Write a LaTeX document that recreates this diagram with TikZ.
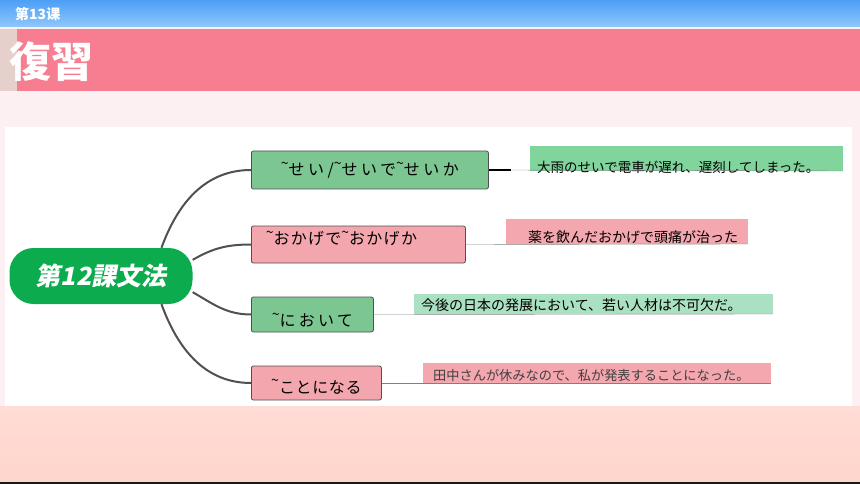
\documentclass[tikz,border=0pt]{standalone}
\usepackage{fontspec}
\setmainfont{Noto Sans CJK JP}
\newfontfamily\scfont{Noto Sans CJK SC}
\newfontfamily\slantfont{Noto Sans CJK JP}[FakeSlant=0.2]
\usetikzlibrary{positioning}
\definecolor{barblue}{RGB}{77,159,247}
\definecolor{barblue2}{RGB}{143,199,251}
\definecolor{titlepink}{RGB}{247,125,144}
\definecolor{strip}{RGB}{230,208,203}
\definecolor{paper}{RGB}{253,240,242}
\definecolor{peach}{RGB}{255,220,213}
\definecolor{peach2}{RGB}{255,213,204}
\definecolor{rootgreen}{RGB}{12,171,78}
\definecolor{leafgreen}{RGB}{124,198,145}
\definecolor{leafpink}{RGB}{243,166,173}
\definecolor{notegreen}{RGB}{128,212,156}
\definecolor{notegreen2}{RGB}{170,225,195}
\definecolor{notepink}{RGB}{244,167,175}
\definecolor{wire}{RGB}{80,80,80}
\newcommand\wv{\raisebox{.45em}{\fontsize{14}{14}\selectfont\textasciitilde}}

\begin{document}
\begin{tikzpicture}[x=1pt,y=-1pt,
	root/.style={rounded corners=24pt, fill=rootgreen, text=white, minimum width=183pt, minimum height=56pt, font=\slantfont\bfseries\fontsize{25}{30}\selectfont},
	branch/.style={draw=wire, thick, rounded corners=2pt, anchor=west, minimum height=36pt, inner sep=0pt, font=\fontsize{16}{18}\selectfont},
	note/.style={anchor=south west, inner sep=0pt},
	notetext/.style={anchor=west, inner sep=0pt, font=\fontsize{14}{16}\selectfont},
	link/.style={wire, line width=2pt},
	twig/.style={gray, thin}]
	\fill[paper] (0,0) rectangle (860,484);
	\shade[top color=barblue, bottom color=barblue2] (0,0) rectangle (860,27);
	\fill[strip] (0,29) rectangle (17,91);
	\fill[titlepink] (17,29) rectangle (860,91);
	\shade[top color=peach, bottom color=peach2] (0,406) rectangle (860,482);
	\fill[black!90] (0,482) rectangle (860,484);
	\fill[white] (5,127) rectangle (852,406);
	\node[anchor=west, text=white, inner sep=0pt, font=\scfont\bfseries\fontsize{14}{16}\selectfont] (lesson) at (15,14) {第13课};
	\node[anchor=west, text=white, inner sep=0pt, font=\bfseries\fontsize{42}{48}\selectfont] (title) at (9,62) {復習};

	\node[root] (g) at (101,276) {第12課文法};
	\node[branch, fill=leafgreen, minimum width=237pt, minimum height=38pt] (b1) at (251,170) {\addfontfeature{LetterSpace=22}\wv せい/\wv せいで\wv せいか};
	\node[branch, fill=leafpink, minimum width=214pt, minimum height=37pt, text depth=14pt] (b2) at (251,244.5) {\addfontfeature{LetterSpace=8}\wv おかげで\wv おかげか\hspace*{34pt}};
	\node[branch, fill=leafgreen, minimum width=122pt, minimum height=35pt, text height=24pt] (b3) at (251,314.5) {\addfontfeature{LetterSpace=20}\wv において};
	\node[branch, fill=leafpink, minimum width=130pt, minimum height=34pt, text height=21pt] (b4) at (251,383) {\addfontfeature{LetterSpace=4}\wv ことになる};

	\node[note, fill=notegreen, minimum width=313pt, minimum height=25pt] (s1) at (530,171) {};
	\node[note, fill=notepink, minimum width=242pt, minimum height=25pt] (s2) at (506,244) {};
	\node[note, fill=notegreen2, minimum width=359pt, minimum height=20pt] (s3) at (414,314) {};
	\node[note, fill=notepink, minimum width=348pt, minimum height=20pt] (s4) at (423,383) {};
	\node[notetext, font=\fontsize{13.5}{16}\selectfont] (t1) at (537,167) {大雨のせいで電車が遅れ、遅刻してしまった。};
	\node[notetext] (t2) at (528,237) {薬を飲んだおかげで頭痛が治った};
	\node[notetext] (t3) at (421,305) {今後の日本の発展において、若い人材は不可欠だ。};
	\node[notetext, text=black!75, font=\fontsize{13.2}{16}\selectfont] (t4) at (433,375) {田中さんが休みなので、私が発表することになった。};

	\draw[link] (g.25) [out=70,in=180] to (b1.west);
	\draw[link] (g.10) [out=30,in=180] to (b2.west);
	\draw[link] (g.-10) [out=-30,in=180] to (b3.west);
	\draw[link] (g.-25) [out=-70,in=180] to (b4.west);
	\coordinate[right=22pt of b1.east] (k1);
	\draw[line width=2pt] (b1.east) -- (k1);
	\draw[twig] (k1) -- (s1.south east);
	\draw[twig] (b2.east) -- (s2.south east);
	\draw[twig] (b3.east) -- (s3.south east);
	\draw[twig] (b4.east) -- (s4.south east);
\end{tikzpicture}
\end{document}
